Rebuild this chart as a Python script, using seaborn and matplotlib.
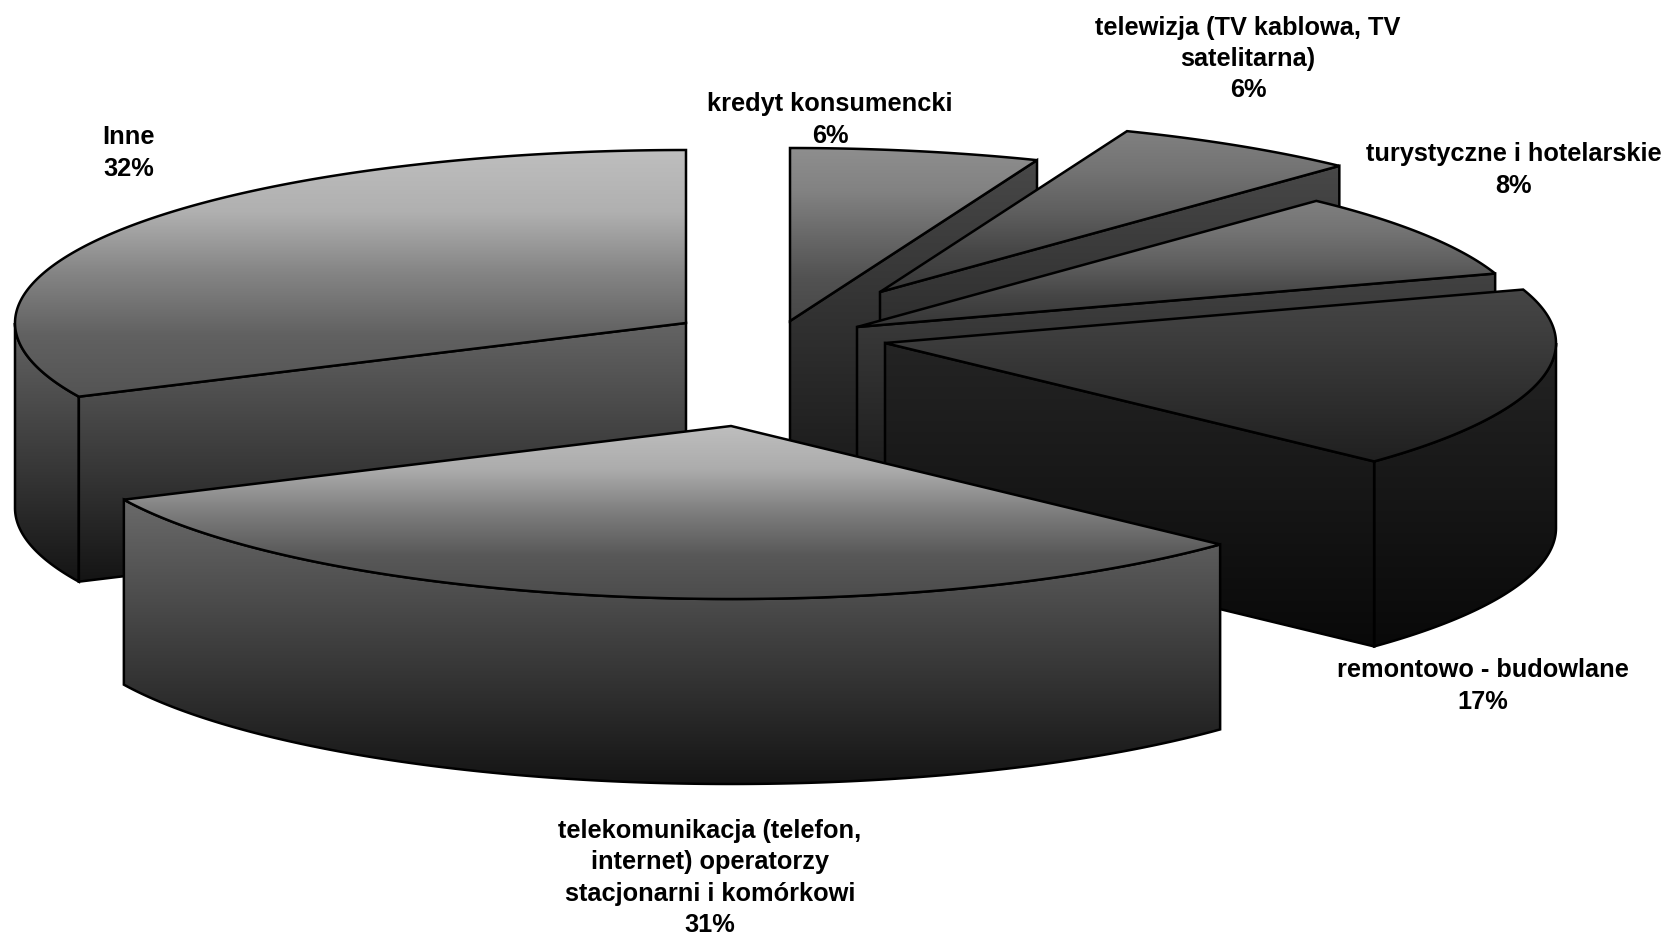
import numpy as np
import matplotlib
matplotlib.use("Agg")
import matplotlib.pyplot as plt
from matplotlib.patches import Polygon
import seaborn as sns

# Survey shares, clockwise from twelve o'clock
categories = [
    "kredyt konsumencki",
    "telewizja (TV kablowa, TV\nsatelitarna)",
    "turystyczne i hotelarskie",
    "remontowo - budowlane",
    "telekomunikacja (telefon,\ninternet) operatorzy\nstacjonarni i komórkowi",
    "Inne",
]
shares = [6, 6, 8, 17, 31, 32]

# Geometry of the tilted disc, in figure pixels
RX, RY, DEPTH = 671, 173, 185
centers = [(790, 322), (880, 293), (857, 328), (885, 344), (731, 427), (686, 324)]
label_xy = [(830, 120), (1248, 59), (1514, 170), (1483, 686), (710, 878), (129, 153)]

# Grey ramps (top to bottom) for the upper surface and the side walls
top_ramps = [
    [142, 130, 105, 82, 72],
    [128, 115, 95, 70, 56],
    [128, 115, 95, 70, 54],
    [70, 62, 52, 42, 32],
    [190, 172, 125, 88, 76],
    [190, 176, 132, 97, 84],
]
wall_ramps = [
    [72, 22],
    [72, 22],
    [66, 22],
    [36, 9],
    [106, 20],
    [100, 20],
]
# Back-to-front painting order
draw_order = [0, 1, 2, 3, 5, 4]


def grey_cmap(levels):
    return sns.blend_palette([(v / 255,) * 3 for v in levels], as_cmap=True)


def rim(center, a0, a1, n=240):
    t = np.radians(np.linspace(a0, a1, n))
    return np.column_stack([center[0] + RX * np.sin(t), center[1] - RY * np.cos(t)])


def shaded_face(ax, verts, cmap, y_span, z):
    verts = np.asarray(verts)
    fill = Polygon(verts, closed=True, facecolor="none", edgecolor="none", zorder=z)
    ax.add_patch(fill)
    x0, x1 = verts[:, 0].min() - 2, verts[:, 0].max() + 2
    im = ax.imshow(
        np.linspace(0, 1, 256)[:, None], cmap=cmap, aspect="auto", origin="upper",
        extent=(x0, x1, y_span[1], y_span[0]), zorder=z, interpolation="bilinear",
        vmin=0, vmax=1,
    )
    im.set_clip_path(fill)
    ax.add_patch(Polygon(verts, closed=True, facecolor="none", edgecolor="black",
                         linewidth=1.8, joinstyle="miter", zorder=z + 0.5))


sns.set_theme(style="white")
plt.rcParams["font.family"] = ["Liberation Sans", "DejaVu Sans"]

fig = plt.figure(figsize=(16.68, 9.37), dpi=100, facecolor="white")
ax = fig.add_axes([0, 0, 1, 1])

edges = np.concatenate([[0], np.cumsum(shares)]) * 3.6
drop = np.array([0, DEPTH])

z = 1
for i in draw_order:
    a0, a1 = edges[i], edges[i + 1]
    c = np.array(centers[i], dtype=float)
    arc = rim(c, a0, a1)

    walls = []
    lo, hi = max(a0, 90), min(a1, 270)
    if lo < hi:
        front = rim(c, lo, hi)
        walls.append(np.vstack([front, (front + drop)[::-1]]))
    if a1 < 180:
        walls.append(np.array([c, arc[-1], arc[-1] + drop, c + drop]))
    if a0 > 180:
        walls.append(np.array([c, arc[0], arc[0] + drop, c + drop]))

    all_wall = np.vstack(walls) if walls else arc
    wall_span = (all_wall[:, 1].min(), all_wall[:, 1].max())
    for w in walls:
        shaded_face(ax, w, grey_cmap(wall_ramps[i]), wall_span, z)
        z += 1

    surface = np.vstack([c, arc])
    shaded_face(ax, surface, grey_cmap(top_ramps[i]),
                (surface[:, 1].min(), surface[:, 1].max()), z)
    z += 1

for name, share, (x, y) in zip(categories, shares, label_xy):
    ax.text(x, y, f"{name}\n{share}%", ha="center", va="center", multialignment="center",
            fontsize=18.3, fontweight="bold", color="black", linespacing=1.38, zorder=z)

ax.set_xlim(0, 1668)
ax.set_ylim(937, 0)
ax.axis("off")
fig.savefig("out.png", dpi=100, facecolor="white")
